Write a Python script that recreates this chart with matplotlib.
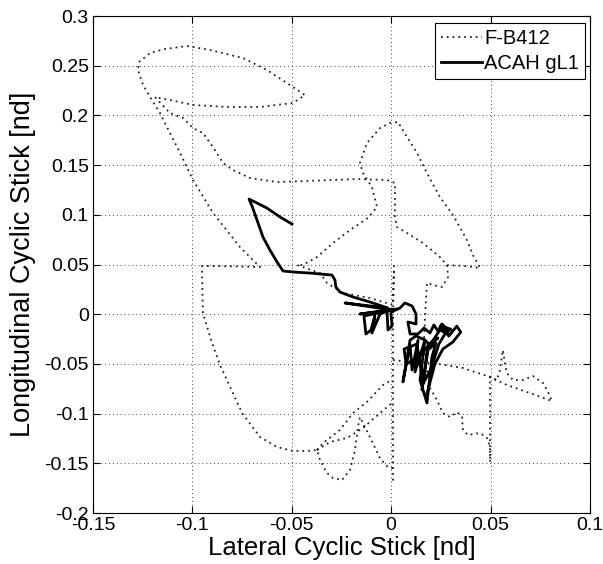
import numpy as np
import matplotlib
matplotlib.use("Agg")
import matplotlib.pyplot as plt

plt.rcParams['font.family'] = ['Liberation Sans', 'DejaVu Sans']

nan = np.nan

# F-B412 (dotted) pilot stick trace, lateral (x) / longitudinal (y), NaN separates pieces
fb_x = [
    # lower loop -> big left curve -> branch A -> top loop -> line B -> hump -> x~0 vertical
    0.0009, -0.0016, -0.0056, -0.0107, -0.0157, -0.0167, -0.0182, -0.0207, -0.0247, -0.0293,
    -0.0323, -0.0358, -0.0373, -0.0424, -0.0494, -0.0574, -0.066, -0.075, -0.0861, -0.0901,
    -0.0947, -0.0952, -0.081, -0.066, -0.0761, -0.0896, -0.0997, -0.1062, -0.1113, -0.1163,
    -0.1213, -0.1248, -0.1274, -0.1269, -0.1213, -0.1138, -0.1027, -0.0911, -0.0745, -0.0625,
    -0.0509, -0.0434, -0.0494, -0.066, -0.0826, -0.0997, -0.1113, -0.1188,
    -0.1113, -0.1047, -0.0997, -0.0947, -0.0896, -0.0846, -0.0796, -0.071, -0.0574, -0.0424,
    -0.0172, -0.0021, 0.0019, 0.0019, 0.0029, 0.008, 0.016, 0.0245, 0.0281, 0.0371, 0.0447,
    0.0411, 0.0381, 0.0311, 0.0245, 0.018, 0.013, 0.008, 0.0034, -0.0006, -0.0056, -0.0122,
    -0.0157, -0.0142, -0.0097, -0.0071, -0.0117, -0.0207, -0.0293, -0.0373, -0.0444, -0.0474,
    -0.0358, -0.0323, -0.0242, -0.0107, 0.0009, 0.0014, 0.0012, 0.0009, 0.0009, 0.0009, 0.0009,
    0.0009, nan,
    # upper line from lower-left junction
    -0.0373, -0.0343, -0.0258, -0.0192, -0.0122, -0.0041, 0.0004, nan,
    # middle line
    -0.0373, -0.0308, -0.0222, -0.0142, -0.0056, 0.0004, nan,
    # hook and right-hand descent
    0.0281, 0.0286, 0.0256, 0.021, 0.018, 0.0175, 0.0165, 0.0175, 0.0195, 0.023, 0.026, 0.0296,
    0.0331, 0.0356, 0.0361, 0.0386, 0.0447, 0.0482, 0.0497, 0.0497, 0.0497, 0.0497, nan,
    # long line to the right, spike and small hump
    0.0009, 0.0095, 0.021, 0.0361, 0.0497, 0.0582, 0.0683, 0.0809, 0.0789, 0.0764, 0.0713,
    0.0663, 0.0613, 0.0582, 0.0572, 0.0562, 0.0547, 0.0532, 0.0497,
]
fb_y = [
    -0.155, -0.154, -0.145, -0.1235, -0.1035, -0.1135, -0.1366, -0.1567, -0.1668, -0.1648,
    -0.1597, -0.1467, -0.1366, -0.1376, -0.1376, -0.1336, -0.1235, -0.0994, -0.0511, -0.029,
    0.0012, 0.0485, 0.0482, 0.0475, 0.0676, 0.1018, 0.135, 0.1622, 0.1823, 0.2024,
    0.2185, 0.2306, 0.2457, 0.2537, 0.2628, 0.2668, 0.2698, 0.2658, 0.2577, 0.2457,
    0.2306, 0.2205, 0.2125, 0.2085, 0.2085, 0.2105, 0.2155, 0.2185,
    0.2024, 0.1974, 0.1873, 0.1823, 0.1682, 0.1521, 0.1451, 0.137, 0.133, 0.134,
    0.136, 0.135, 0.132, 0.0978, 0.0877, 0.0817, 0.0716, 0.0575, 0.0495, 0.0485, 0.0465,
    0.0596, 0.0746, 0.0998, 0.1179, 0.142, 0.1622, 0.1783, 0.1934, 0.1924, 0.1873, 0.1722,
    0.1521, 0.142, 0.128, 0.1078, 0.0968, 0.0847, 0.0716, 0.0575, 0.0495, 0.0495,
    0.0414, 0.0314, 0.0213, 0.0163, 0.0093, 0.0485, 0.03, -0.0159, -0.0461, -0.0863, -0.1266,
    -0.1688, nan,
    -0.1366, -0.1296, -0.1165, -0.0994, -0.0883, -0.0712, -0.0662, nan,
    -0.1366, -0.1286, -0.1245, -0.1145, -0.0994, -0.0893, nan,
    0.0495, 0.0374, 0.0274, 0.0294, 0.0314, 0.0143, -0.026, -0.0511, -0.0742, -0.0863, -0.0994,
    -0.1034, -0.0984, -0.1034, -0.1165, -0.1215, -0.1195, -0.1245, -0.1336, -0.1487, -0.1064,
    -0.0592, nan,
    -0.0461, -0.0481, -0.0491, -0.0541, -0.0632, -0.0712, -0.0783, -0.0873, -0.0783, -0.0692,
    -0.0622, -0.0662, -0.0662, -0.0592, -0.0491, -0.036, -0.0561, -0.0662, -0.0642,
]

# ACAH gL1 (solid) pilot stick trace
acah_x = [
    -0.0499, -0.0559, -0.0625, -0.0715, -0.07, -0.0675, -0.0645, -0.061, -0.0574, -0.0544,
    -0.0494, -0.0408, -0.0298, -0.0283, -0.0278, -0.0258, -0.0192, -0.0107, -0.0016,
    -0.0232, -0.0132, 0.0004, -0.0157, 0.0029, -0.0137, -0.0127, -0.0102, -0.0082, -0.0097,
    -0.0056, -0.0021, -0.0016, 0.0004, -0.0001, 0.0044, 0.0069, 0.0105, 0.0125, 0.0125,
    0.0084, 0.0095, 0.0135, 0.0165, 0.0195, 0.0215, 0.0235, 0.0255, 0.0276, 0.0286, 0.0245,
    0.0195, 0.017, 0.0125, 0.0095, 0.0059, 0.0095, 0.0105, 0.0135, 0.012, 0.017, 0.0145,
    0.018, 0.0205, 0.0225, 0.0185, 0.0155, 0.0185, 0.0235,
    0.012, 0.0075, 0.0065, 0.013, 0.016, 0.02, 0.024, 0.027, 0.030, 0.025,
    0.029, 0.033, 0.035, 0.031, 0.026, 0.022, 0.018,
]
acah_y = [
    0.0907, 0.0978, 0.1068, 0.1159, 0.1089, 0.0948, 0.0777, 0.0646, 0.0525, 0.0435,
    0.0425, 0.0414, 0.0394, 0.0345, 0.0274, 0.0223, 0.0173, 0.0123, 0.0062,
    0.0113, 0.0083, 0.0042, 0.0002, 0.0052, -0.0018, -0.0199, -0.0159, -0.0018, -0.0189,
    0.0002, 0.0032, -0.0159, -0.0118, 0.0022, 0.0062, 0.0113, 0.0083, 0.0002, -0.0098,
    -0.0078, -0.0199, -0.0199, -0.0139, -0.0189, -0.0108, -0.0169, -0.0098, -0.0139, -0.0199, -0.0159,
    -0.031, -0.026, -0.0219, -0.026, -0.0682, -0.031, -0.0561, -0.026, -0.0581, -0.026, -0.0662,
    -0.0893, -0.0431, -0.029, -0.036, -0.0762, -0.031, -0.0239,
    -0.045, -0.05, -0.035, -0.03, -0.07, -0.055, -0.03, -0.02, -0.015, -0.012,
    -0.022, -0.012, -0.018, -0.028, -0.035, -0.05, -0.08,
]

x_ticks = [-0.15, -0.1, -0.05, 0, 0.05, 0.1]
x_labels = ['-0.15', '-0.1', '-0.05', '0', '0.05', '0.1']
y_ticks = [-0.2, -0.15, -0.1, -0.05, 0, 0.05, 0.1, 0.15, 0.2, 0.25, 0.3]
y_labels = ['-0.2', '-0.15', '-0.1', '-0.05', '0', '0.05', '0.1', '0.15', '0.2', '0.25', '0.3']

fig = plt.figure(figsize=(6.03, 5.64), dpi=100)
ax = fig.add_axes([0.1542, 0.0904, 0.8242, 0.8812])

ax.plot(fb_x, fb_y, color='#222222', linestyle=(0, (1.0, 2.2)), linewidth=1.3, label='F-B412')
ax.plot(acah_x, acah_y, color='black', linestyle='-', linewidth=2.0, label='ACAH gL1')

ax.set_xlim(-0.15, 0.1)
ax.set_ylim(-0.2, 0.3)
ax.set_xticks(x_ticks)
ax.set_xticklabels(x_labels)
ax.set_yticks(y_ticks)
ax.set_yticklabels(y_labels)
ax.tick_params(direction='in', length=5, width=0.8, top=True, right=True, labelsize=14)
ax.tick_params(axis='x', pad=3)
ax.tick_params(axis='y', pad=3)
ax.grid(True, color='#444444', linestyle=(0, (1, 3)), linewidth=0.7)
for s in ax.spines.values():
    s.set_linewidth(0.8)

ax.set_xlabel('Lateral Cyclic Stick [nd]', fontsize=18.5, labelpad=1)
ax.set_ylabel('Longitudinal Cyclic Stick [nd]', fontsize=19.5, labelpad=6)

leg = ax.legend(loc='upper right', bbox_to_anchor=(0.99, 0.986), fontsize=14.5,
                frameon=True, fancybox=False, edgecolor='black', framealpha=1,
                handlelength=2.05, handletextpad=0.1, borderpad=0.3, labelspacing=0.3,
                borderaxespad=0)
leg.get_frame().set_linewidth(0.8)

fig.savefig('out.png', dpi=100)
